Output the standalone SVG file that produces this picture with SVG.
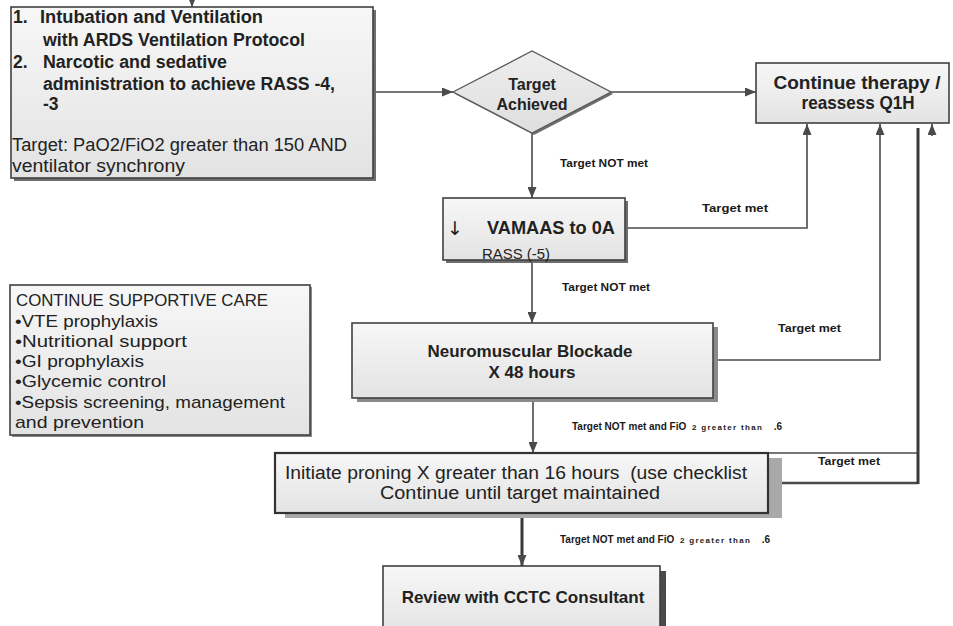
<svg xmlns="http://www.w3.org/2000/svg" width="953" height="626" viewBox="0 0 953 626">
<defs>
<linearGradient id="boxfill" x1="0" y1="0" x2="0" y2="1">
<stop offset="0" stop-color="#f7f7f7"/>
<stop offset="1" stop-color="#e3e3e3"/>
</linearGradient>
<linearGradient id="dfill" x1="0" y1="0" x2="0" y2="1">
<stop offset="0" stop-color="#eeeeee"/>
<stop offset="1" stop-color="#dedede"/>
</linearGradient>
<marker id="arr" markerUnits="userSpaceOnUse" markerWidth="11" markerHeight="9" refX="11" refY="4.5" orient="auto">
<path d="M0,0 L11,4.5 L0,9 z" fill="#4a4a4a"/>
</marker>
<style>
.box{fill:url(#boxfill);stroke:#404040;stroke-width:1.6}
.shadow{fill:#6e6e6e}
.t{font-family:"Liberation Sans",Arial,sans-serif;fill:#222}
.b{font-weight:bold}
.c{text-anchor:middle}
.lbl{font-family:"Liberation Sans",Arial,sans-serif;font-weight:bold;font-size:10px;fill:#1a1a1a}
.tiny{font-size:8px;letter-spacing:1.3px}
.con{fill:none;stroke:#4a4a4a;stroke-width:1.6}
.thick{fill:none;stroke:#3a3a3a;stroke-width:3}
</style>
</defs>
<rect width="953" height="626" fill="#ffffff"/>

<g id="connectors">
<path class="con" d="M192,-2 L192,7" marker-end="url(#arr)"/>
<path class="con" d="M373,92 L453,92" marker-end="url(#arr)"/>
<path class="con" d="M611,92 L756,92" marker-end="url(#arr)"/>
<path class="con" d="M532,133 L532,198" marker-end="url(#arr)"/>
<path class="con" d="M625,228 L807,228 L807,124" marker-end="url(#arr)"/>
<path class="con" d="M532,260 L532,323" marker-end="url(#arr)"/>
<path class="con" d="M713,360 L880,360 L880,124" marker-end="url(#arr)"/>
<path class="con" d="M533,398 L533,453" marker-end="url(#arr)"/>
<path class="con" d="M768,453 L918,453"/>
<path class="con" d="M782,483 L918,483" style="stroke-width:2.4"/>
<path class="thick" d="M918,484 L918,128"/>
<path class="con" d="M932,136 L932,124" marker-end="url(#arr)"/>
<path class="thick" d="M522,518 L522,566" marker-end="url(#arr)"/>
<text class="lbl" x="560" y="167" textLength="88" lengthAdjust="spacingAndGlyphs">Target NOT met</text>
<text class="lbl" x="702" y="212" textLength="66" lengthAdjust="spacingAndGlyphs">Target met</text>
<text class="lbl" x="562" y="291" textLength="88" lengthAdjust="spacingAndGlyphs">Target NOT met</text>
<text class="lbl" x="778" y="332" textLength="63" lengthAdjust="spacingAndGlyphs">Target met</text>
<text class="lbl" x="572" y="430">Target NOT met and FiO<tspan class="tiny" x="692">2 greater than</tspan><tspan x="771"> .6</tspan></text>
<text class="lbl" x="818" y="465" textLength="62" lengthAdjust="spacingAndGlyphs">Target met</text>
<text class="lbl" x="560" y="543">Target NOT met and FiO<tspan class="tiny" x="680">2 greater than</tspan><tspan x="759"> .6</tspan></text>
</g>

<g id="start">
<rect class="shadow" x="14" y="10" width="362" height="171"/>
<rect class="box" x="11" y="7" width="362" height="171"/>
<text class="t b" x="13" y="23" font-size="17.5">1.</text>
<text class="t b" x="40" y="23" font-size="17.5" textLength="223" lengthAdjust="spacingAndGlyphs">Intubation and Ventilation</text>
<text class="t b" x="43" y="46" font-size="17.5" textLength="262" lengthAdjust="spacingAndGlyphs">with ARDS Ventilation Protocol</text>
<text class="t b" x="13" y="68" font-size="17.5">2.</text>
<text class="t b" x="43" y="68" font-size="17.5" textLength="184" lengthAdjust="spacingAndGlyphs">Narcotic and sedative</text>
<text class="t b" x="43" y="90" font-size="17.5" textLength="292" lengthAdjust="spacingAndGlyphs">administration to achieve RASS -4,</text>
<text class="t b" x="43" y="110" font-size="17.5">-3</text>
<text class="t" x="12" y="151" font-size="17.5" textLength="335" lengthAdjust="spacingAndGlyphs">Target: PaO2/FiO2 greater than 150 AND</text>
<text class="t" x="12" y="172" font-size="17.5" textLength="173" lengthAdjust="spacingAndGlyphs">ventilator synchrony</text>
</g>

<g id="decision">
<polygon points="455,94 534,53 613,94 534,135" fill="#6e6e6e"/>
<polygon points="453,92 532,51 611,92 532,133" fill="url(#dfill)" stroke="#5a5a5a" stroke-width="1.4"/>
<text class="t b c" x="532" y="90" font-size="16">Target</text>
<text class="t b c" x="532" y="110" font-size="16">Achieved</text>
</g>

<g id="continue">
<rect class="box" x="756" y="63" width="193" height="60"/>
<text class="t b c" x="857" y="89" font-size="18.5" textLength="167" lengthAdjust="spacingAndGlyphs">Continue therapy /</text>
<text class="t b c" x="858" y="109" font-size="18.5" textLength="113" lengthAdjust="spacingAndGlyphs">reassess Q1H</text>
</g>

<g id="vamaas">
<rect class="shadow" x="446" y="201" width="182" height="62"/>
<rect class="box" x="443" y="198" width="182" height="62"/>
<text x="447" y="235" font-size="19" font-family="'DejaVu Sans',sans-serif" fill="#222">↓</text>
<text class="t b" x="487" y="234" font-size="18" textLength="128" lengthAdjust="spacingAndGlyphs">VAMAAS to 0A</text>
<text class="t" x="482" y="259" font-size="15.5" textLength="68" lengthAdjust="spacingAndGlyphs">RASS (-5)</text>
</g>

<g id="supportive">
<rect class="shadow" x="12" y="287" width="300" height="150" style="fill:#8a8a8a"/>
<rect class="box" x="10" y="285" width="300" height="150"/>
<text class="t" x="16" y="306" font-size="17" textLength="252" lengthAdjust="spacingAndGlyphs">CONTINUE SUPPORTIVE CARE</text>
<text class="t" x="15" y="327" font-size="17" textLength="143" lengthAdjust="spacingAndGlyphs">•VTE prophylaxis</text>
<text class="t" x="15" y="347" font-size="17" textLength="172" lengthAdjust="spacingAndGlyphs">•Nutritional support</text>
<text class="t" x="15" y="367" font-size="17" textLength="129" lengthAdjust="spacingAndGlyphs">•GI prophylaxis</text>
<text class="t" x="15" y="387" font-size="17" textLength="151" lengthAdjust="spacingAndGlyphs">•Glycemic control</text>
<text class="t" x="15" y="408" font-size="17" textLength="270" lengthAdjust="spacingAndGlyphs">•Sepsis screening, management</text>
<text class="t" x="15" y="428" font-size="17" textLength="129" lengthAdjust="spacingAndGlyphs">and prevention</text>
</g>

<g id="neuromuscular">
<rect class="shadow" x="357" y="327" width="361" height="75" style="fill:#8a8a8a"/>
<rect class="box" x="352" y="323" width="361" height="75"/>
<text class="t b c" x="530" y="357" font-size="17">Neuromuscular Blockade</text>
<text class="t b c" x="532" y="378" font-size="17">X 48 hours</text>
</g>

<g id="proning">
<rect x="285" y="458" width="497" height="60" fill="#a9a9a9"/>
<rect class="box" x="275" y="453" width="493" height="60" style="stroke:#333;stroke-width:2.2"/>
<text class="t c" x="516" y="479" font-size="18" textLength="462" lengthAdjust="spacingAndGlyphs">Initiate proning X greater than 16 hours&#160; (use checklist</text>
<text class="t c" x="520" y="499" font-size="18" textLength="280" lengthAdjust="spacingAndGlyphs">Continue until target maintained</text>
</g>

<g id="review">
<rect x="388" y="571" width="278" height="70" fill="#4a4a4a"/>
<rect class="box" x="383" y="566" width="277" height="70"/>
<text class="t b c" x="523" y="603" font-size="17">Review with CCTC Consultant</text>
</g>
</svg>
